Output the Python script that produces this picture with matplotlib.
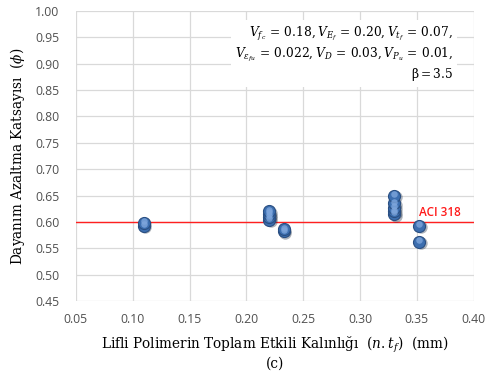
import matplotlib
matplotlib.use("Agg")
import matplotlib.pyplot as plt

# data
x_vals = [0.11, 0.11, 0.22, 0.22, 0.22, 0.22, 0.233, 0.233,
          0.33, 0.33, 0.33, 0.33, 0.33, 0.352, 0.352]
phi_vals = [0.593, 0.598, 0.604, 0.610, 0.615, 0.620, 0.582, 0.586,
            0.615, 0.620, 0.627, 0.635, 0.650, 0.593, 0.562]
aci_phi = 0.60
x_ticks = [0.05, 0.10, 0.15, 0.20, 0.25, 0.30, 0.35, 0.40]
y_ticks = [0.45, 0.50, 0.55, 0.60, 0.65, 0.70, 0.75, 0.80, 0.85, 0.90, 0.95, 1.00]

plt.rcParams['mathtext.fontset'] = 'dejavuserif'
fig = plt.figure(figsize=(4.93, 3.71), dpi=100)
ax = fig.add_axes([0.154, 0.189, 0.807, 0.781])

ax.set_xlim(0.05, 0.40)
ax.set_ylim(0.45, 1.00)
ax.set_xticks(x_ticks)
ax.set_yticks(y_ticks)
ax.set_xticklabels([f"{t:.2f}" for t in x_ticks])
ax.set_yticklabels([f"{t:.2f}" for t in y_ticks])
ax.grid(True, color='#d9d9d9', linewidth=0.9)
ax.set_axisbelow(True)
for s in ax.spines.values():
    s.set_visible(False)
ax.tick_params(length=0, labelsize=8.8, colors='#505050')
ax.tick_params(axis='y', pad=12)
ax.tick_params(axis='x', pad=9)
for lab in ax.get_xticklabels() + ax.get_yticklabels():
    lab.set_family('Open Sans')

ax.axhline(aci_phi, color='#ff2020', linewidth=1.0, zorder=2)
ax.text(0.3515, aci_phi + 0.006, "ACI 318", color='#ff1a1a', fontsize=8.5,
        family='Open Sans', fontweight='semibold', va='bottom', ha='left')

# shadow, sphere body, highlight
ax.scatter([x + 0.0012 for x in x_vals], [y - 0.003 for y in phi_vals], s=80,
           color='#1a2a40', alpha=0.35, linewidths=0, zorder=3)
ax.scatter(x_vals, phi_vals, s=75, color='#3c6eaf', edgecolors='#2a4f82',
           linewidths=0.8, zorder=4)
ax.scatter(x_vals, [y + 0.003 for y in phi_vals], s=22, color='#7ea6dc',
           linewidths=0, alpha=0.8, zorder=5)

ax.text(0.382, 0.973,
        r"$V_{f_c}\,=\,0.18, V_{E_f}\,=\,0.20, V_{t_f}\,=\,0.07,$" "\n"
        r"$V_{\epsilon_{fu}}\,=\,0.022, V_{D}\,=\,0.03, V_{P_u}\,=\,0.01,$" "\n"
        r"$\mathrm{\beta{=}3.5}$",
        ha='right', va='top', fontsize=8.8, linespacing=1.2,
        bbox=dict(facecolor='white', edgecolor='none', pad=3))

ax.set_ylabel(r"Dayanım Azaltma Katsayısı  ($\phi$)", family='DejaVu Serif',
              fontsize=9.8, labelpad=6)
ax.set_xlabel("Lifli Polimerin Toplam Etkili Kalınlığı  ($n.t_f$)  (mm)\n(c)",
              family='DejaVu Serif', fontsize=9.8, labelpad=6, linespacing=1.15)

fig.savefig("out.png", dpi=100)
